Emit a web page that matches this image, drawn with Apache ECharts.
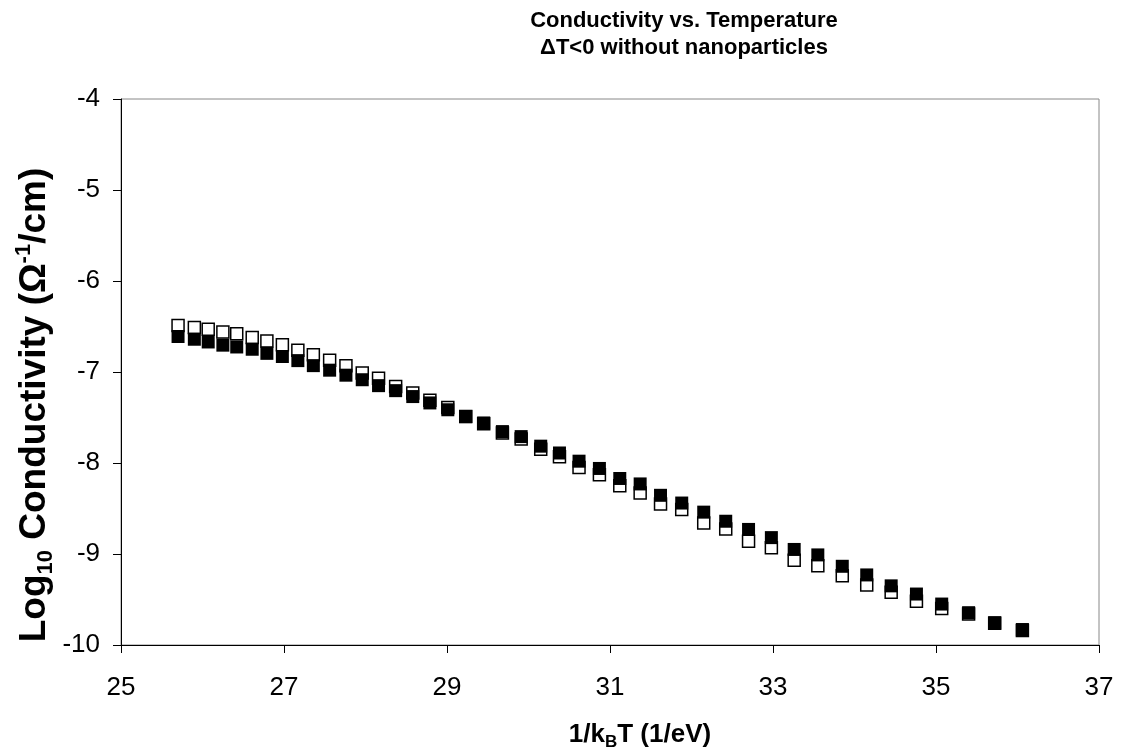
<!DOCTYPE html>
<html>
<head>
<meta charset="utf-8">
<script src="https://cdn.jsdelivr.net/npm/echarts@6/dist/echarts.min.js"></script>
<style>
  html, body { margin: 0; padding: 0; background: #fff; }
  #chart { width: 1123px; height: 756px; }
</style>
</head>
<body>
<div id="chart"></div>
<script>
// 1/kBT values (1/eV)
var invKT = [25.70, 25.90, 26.07, 26.25, 26.42, 26.61, 26.79, 26.98, 27.17, 27.36,
             27.56, 27.76, 27.96, 28.16, 28.37, 28.58, 28.79, 29.01, 29.23, 29.45,
             29.68, 29.91, 30.15, 30.38, 30.62, 30.87, 31.12, 31.37, 31.62, 31.88,
             32.15, 32.42, 32.70, 32.98, 33.26, 33.55, 33.85, 34.15, 34.45, 34.76,
             35.07, 35.40, 35.72, 36.06];
// open squares
var logSigmaOpen = [-6.49, -6.51, -6.53, -6.56, -6.58, -6.62, -6.66, -6.70, -6.76, -6.81,
                    -6.87, -6.93, -7.01, -7.07, -7.16, -7.23, -7.31, -7.39, -7.49, -7.57,
                    -7.67, -7.735, -7.85, -7.93, -8.05, -8.13, -8.25, -8.33, -8.45, -8.51,
                    -8.66, -8.725, -8.86, -8.93, -9.07, -9.13, -9.24, -9.34, -9.42, -9.52,
                    -9.60, -9.66, -9.76, -9.84];
// filled squares
var logSigmaFilled = [-6.61, -6.64, -6.67, -6.705, -6.725, -6.75, -6.795, -6.83, -6.875, -6.93,
                      -6.98, -7.035, -7.085, -7.15, -7.205, -7.27, -7.34, -7.415, -7.49, -7.56,
                      -7.655, -7.71, -7.815, -7.89, -7.98, -8.06, -8.17, -8.23, -8.355, -8.44,
                      -8.54, -8.64, -8.73, -8.82, -8.95, -9.01, -9.135, -9.23, -9.35, -9.44,
                      -9.55, -9.645, -9.755, -9.83];

function pairs (xs, ys) {
    return xs.map(function (x, i) { return [x, ys[i]]; });
}

var font = 'Liberation Sans, Arial, sans-serif';
var chart = echarts.init(document.getElementById('chart'));
chart.setOption({
    animation: false,
    backgroundColor: '#fff',
    title: {
        text: 'Conductivity vs. Temperature\nΔT<0 without nanoparticles',
        left: 684,
        top: 7,
        padding: 0,
        textAlign: 'center',
        textStyle: {
            fontFamily: font,
            fontSize: 22,
            fontWeight: 'bold',
            color: '#000',
            lineHeight: 27
        }
    },
    grid: {
        left: 121,
        right: 24,
        top: 99,
        bottom: 108,
        show: true,
        borderColor: '#888',
        borderWidth: 1
    },
    xAxis: {
        type: 'value',
        min: 25,
        max: 37,
        interval: 2,
        name: '1/k{sub|B}T (1/eV)',
        nameLocation: 'middle',
        nameGap: 74,
        nameTextStyle: {
            fontFamily: font,
            fontSize: 26,
            fontWeight: 'bold',
            color: '#000',
            lineHeight: 32,
            padding: [0, 0, 0, 60],
            rich: {
                sub: {fontFamily: font, fontSize: 17, fontWeight: 'bold', color: '#000', verticalAlign: 'bottom', lineHeight: 15}
            }
        },
        axisLine: {lineStyle: {color: '#000', width: 1}},
        axisTick: {length: 8, lineStyle: {color: '#000'}},
        axisLabel: {fontFamily: font, fontSize: 26, color: '#000', margin: 30},
        splitLine: {show: false}
    },
    yAxis: {
        type: 'value',
        min: -10,
        max: -4,
        interval: 1,
        name: 'Log{sub|10} Conductivity (Ω{sup|-1}/cm)',
        nameLocation: 'middle',
        nameRotate: 90,
        nameGap: 64,
        nameMoveOverlap: false,
        nameTextStyle: {
            fontFamily: font,
            fontSize: 37,
            fontWeight: 'bold',
            color: '#000',
            lineHeight: 44,
            padding: [0, 66, 0, 0],
            rich: {
                sub: {fontFamily: font, fontSize: 22, fontWeight: 'bold', color: '#000', verticalAlign: 'bottom', lineHeight: 20},
                sup: {fontFamily: font, fontSize: 22, fontWeight: 'bold', color: '#000', verticalAlign: 'top', lineHeight: 20}
            }
        },
        axisLine: {show: true, lineStyle: {color: '#000', width: 1}},
        axisTick: {show: true, length: 8, lineStyle: {color: '#000'}},
        axisLabel: {fontFamily: font, fontSize: 26, color: '#000', margin: 21},
        splitLine: {show: false}
    },
    series: [
        {
            name: 'open',
            type: 'scatter',
            symbol: 'rect',
            symbolSize: 12,
            data: pairs(invKT, logSigmaOpen),
            itemStyle: {color: '#fff', borderColor: '#000', borderWidth: 1.5, opacity: 1}
        },
        {
            name: 'filled',
            type: 'scatter',
            symbol: 'rect',
            symbolSize: 13,
            data: pairs(invKT, logSigmaFilled),
            itemStyle: {color: '#000', opacity: 1}
        }
    ]
});
</script>
</body>
</html>
